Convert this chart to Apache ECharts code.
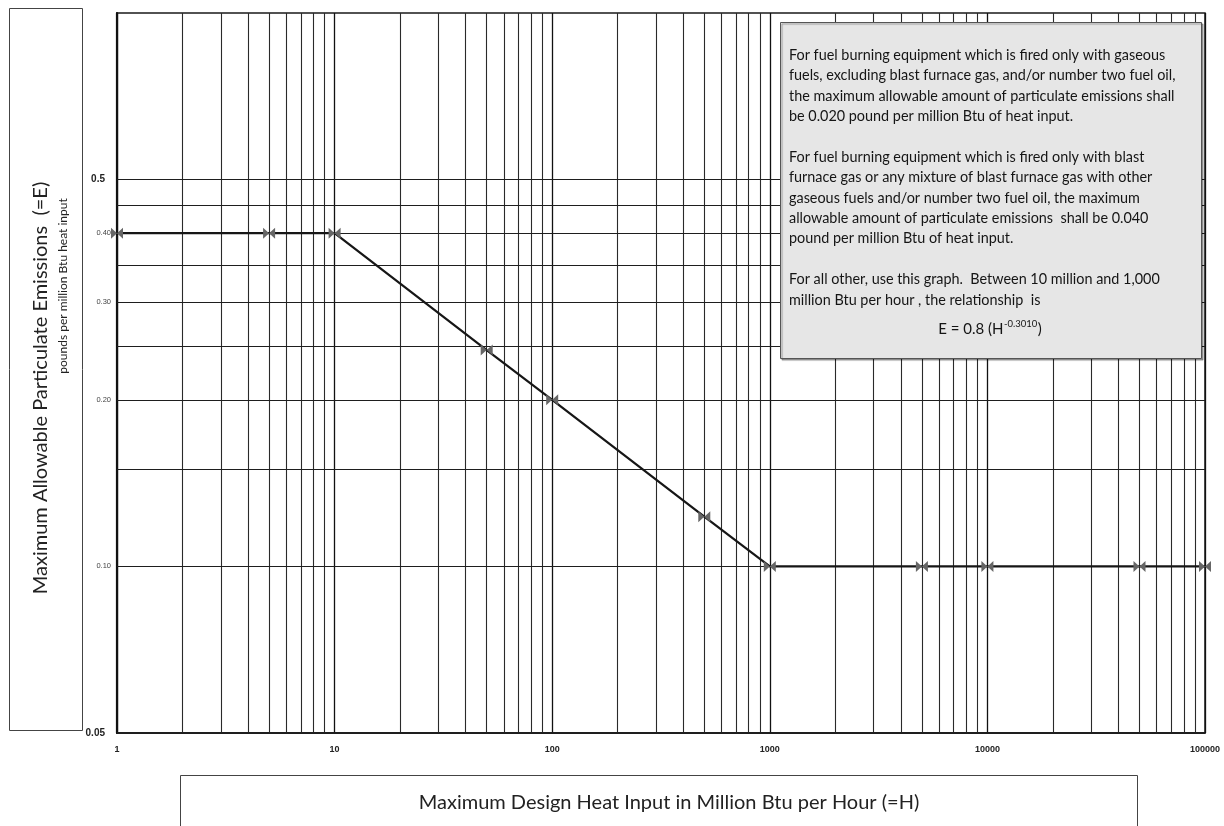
<!DOCTYPE html>
<html><head><meta charset="utf-8">
<script src="https://cdn.jsdelivr.net/npm/echarts@6/dist/echarts.min.js"></script>
<style>html,body{margin:0;padding:0;background:#fff}#c{width:1224px;height:826px}</style>
</head><body><div id="c"></div>
<script>
// ---- data ----
const heatInput = [1, 5, 10, 50, 100, 500, 1000, 5000, 10000, 50000, 100000];
const emissions = [0.40, 0.40, 0.40, 0.246, 0.200, 0.123, 0.100, 0.100, 0.100, 0.100, 0.100];
const xTickLabels = ['1', '10', '100', '1000', '10000', '100000'];
const xMinorGrid = [2,3,4,5,6,7,8,9, 20,30,40,50,60,70,80,90, 200,300,400,500,600,700,800,900,
  2000,3000,4000,5000,6000,7000,8000,9000, 20000,30000,40000,50000,60000,70000,80000,90000];
const yMinorGrid = [0.15, 0.25, 0.35, 0.45];
const yTickValues = [0.05, 0.10, 0.20, 0.30, 0.40, 0.5];
const yTickLabels = ['0.05', '0.10', '0.20', '0.30', '0.40', '0.5'];

const noteText = [
  'For fuel burning equipment which is fired only with gaseous',
  'fuels, excluding blast furnace gas, and/or number two fuel oil,',
  'the maximum allowable amount of particulate emissions shall',
  'be 0.020 pound per million Btu of heat input.',
  '',
  'For fuel burning equipment which is fired only with blast',
  'furnace gas or any mixture of blast furnace gas with other',
  'gaseous fuels and/or number two fuel oil, the maximum',
  'allowable amount of particulate emissions  shall be 0.040',
  'pound per million Btu of heat input.',
  '',
  'For all other, use this graph.  Between 10 million and 1,000',
  'million Btu per hour , the relationship  is'
].join('\n');
const eqMain = 'E = 0.8 (H';
const eqSup = '-0.3010';
const eqEnd = ')';

const FONT = 'Lato, "Liberation Sans", sans-serif';
const noteFont = '14.4px ' + FONT;
const eqFont = '15px ' + FONT;
const supFont = '9.5px ' + FONT;

// measure equation pieces to place the superscript
const mctx = document.createElement('canvas').getContext('2d');
function tw(t, f) { mctx.font = f; return mctx.measureText(t).width; }
const wMain = tw(eqMain, eqFont), wSup = tw(eqSup, supFont), wEnd = tw(eqEnd, eqFont);
const eqTotal = wMain + wSup + 1 + wEnd;
const eqX0 = 990 - eqTotal / 2;
const eqY = 329;

const chart = echarts.init(document.getElementById('c'), null, {renderer: 'canvas'});

const gridLines = [];
xMinorGrid.forEach(v => gridLines.push({xAxis: v, lineStyle: {color: '#2a2a2a', width: 1.1, type: 'solid'}}));
yMinorGrid.forEach(v => gridLines.push({yAxis: v, lineStyle: {color: '#1e1e1e', width: 1.1, type: 'solid'}}));
yTickValues.forEach((v, i) => {
  const big = (yTickLabels[i] === '0.5' || yTickLabels[i] === '0.05');
  gridLines.push({
    yAxis: v,
    lineStyle: {color: '#1e1e1e', width: i === 0 ? 1.5 : 1.1, type: 'solid'},
    label: {
      show: true, position: 'start', formatter: yTickLabels[i],
      distance: big ? 12 : 6,
      fontSize: big ? 10 : 7.5, fontWeight: big ? 'bold' : 'normal',
      color: big ? '#222' : '#444', fontFamily: '"Liberation Sans", sans-serif'
    }
  });
});

chart.setOption({
  animation: false,
  backgroundColor: '#fff',
  grid: {left: 117, right: 19, top: 13, bottom: 93, show: true, borderColor: '#1a1a1a', borderWidth: 1.5, containLabel: false},
  xAxis: {
    type: 'log', logBase: 10, min: 1, max: 100000, splitNumber: 5,
    axisLine: {show: true, lineStyle: {color: '#111', width: 1.5}},
    axisTick: {show: false},
    axisLabel: {
      formatter: v => xTickLabels[Math.round(Math.log10(v))],
      fontSize: 9, fontWeight: 'bold', color: '#222', margin: 12,
      fontFamily: '"Liberation Sans", sans-serif', showMinLabel: true, showMaxLabel: true
    },
    splitLine: {show: true, lineStyle: {color: '#111', width: 1.3}}
  },
  yAxis: {
    type: 'log', logBase: 10, min: 0.05, max: 1,
    axisLine: {show: true, lineStyle: {color: '#111', width: 2.2}},
    axisTick: {show: false},
    axisLabel: {show: false},
    splitLine: {show: false}
  },
  series: [
    {
      type: 'line', data: [], silent: true, z: 1,
      markLine: {symbol: 'none', silent: true, animation: false, label: {show: false}, data: gridLines}
    },
    {
      type: 'line', z: 5, clip: false,
      data: heatInput.map((h, i) => [h, emissions[i]]),
      symbol: 'path://M0,0L5,5L0,10ZM10,0L5,5L10,10Z',
      symbolSize: [12, 11], showSymbol: true, showAllSymbol: true,
      lineStyle: {color: '#161616', width: 2.2},
      itemStyle: {color: '#666'}
    }
  ],
  graphic: [
    {type: 'rect', z: 10, shape: {x: 9.5, y: 8.5, width: 73, height: 722}, style: {fill: 'none', stroke: '#444', lineWidth: 1}},
    {type: 'text', z: 10, x: 41, y: 388, rotation: Math.PI / 2,
      style: {text: 'Maximum Allowable Particulate Emissions  (=E)', font: '20px ' + FONT, fill: '#222', textAlign: 'center', textVerticalAlign: 'middle'}},
    {type: 'text', z: 10, x: 63, y: 286, rotation: Math.PI / 2,
      style: {text: 'pounds per million Btu heat input', font: '12px ' + FONT, fill: '#222', textAlign: 'center', textVerticalAlign: 'middle'}},
    {type: 'rect', z: 10, shape: {x: 180.5, y: 775.5, width: 957, height: 80}, style: {fill: 'none', stroke: '#444', lineWidth: 1}},
    {type: 'text', z: 10, x: 669, y: 803,
      style: {text: 'Maximum Design Heat Input in Million Btu per Hour (=H)', font: '20px ' + FONT, fill: '#222', textAlign: 'center', textVerticalAlign: 'middle'}},
    {type: 'rect', z: 20, shape: {x: 780.5, y: 22.5, width: 421, height: 336},
      style: {fill: '#e6e6e6', stroke: '#555', lineWidth: 1, shadowColor: 'rgba(0,0,0,0.35)', shadowOffsetX: 1.5, shadowOffsetY: 1.5, shadowBlur: 1}},
    {type: 'text', z: 21, x: 789, y: 45,
      style: {text: noteText, font: noteFont, fill: '#151515', textAlign: 'left', textVerticalAlign: 'top', lineHeight: 20.4}},
    {type: 'text', z: 21, x: eqX0, y: eqY,
      style: {text: eqMain, font: eqFont, fill: '#151515', textAlign: 'left', textVerticalAlign: 'middle'}},
    {type: 'text', z: 21, x: eqX0 + wMain + 0.5, y: eqY - 5,
      style: {text: eqSup, font: supFont, fill: '#151515', textAlign: 'left', textVerticalAlign: 'middle'}},
    {type: 'text', z: 21, x: eqX0 + wMain + wSup + 1, y: eqY,
      style: {text: eqEnd, font: eqFont, fill: '#151515', textAlign: 'left', textVerticalAlign: 'middle'}}
  ]
});
</script>
</body></html>
